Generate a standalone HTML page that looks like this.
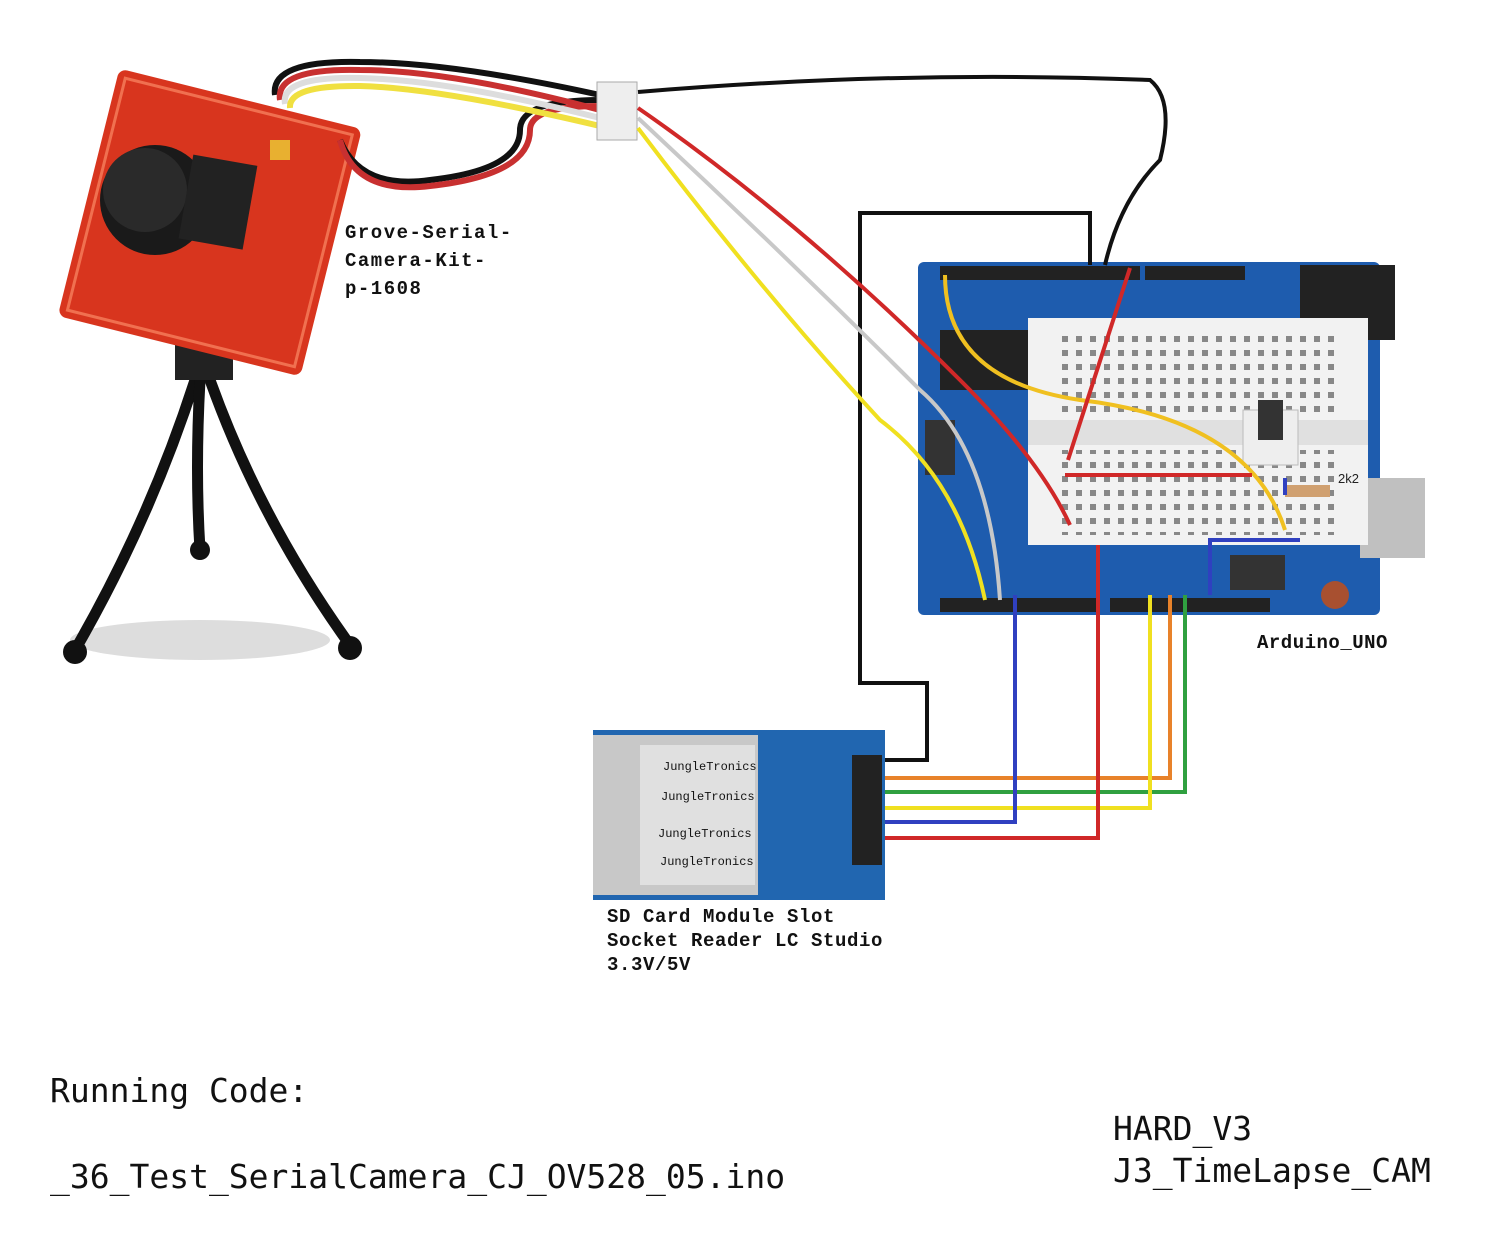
<!DOCTYPE html>
<html><head><meta charset="utf-8"><style>
body{margin:0;background:#fff;}
svg{display:block}
.m{font-family:"Liberation Mono",monospace;font-weight:bold;font-size:19px;fill:#111;letter-spacing:1.5px}
.s{font-family:"DejaVu Sans Mono","Liberation Mono",monospace;font-size:33px;fill:#111}
</style></head><body>
<svg width="1492" height="1256" viewBox="0 0 1492 1256" xmlns="http://www.w3.org/2000/svg">
<rect width="1492" height="1256" fill="#fff"/>
<!-- tripod -->
<ellipse cx="200" cy="640" rx="130" ry="20" fill="#ddd"/>
<g stroke="#111" stroke-width="11" fill="none" stroke-linecap="round">
<path d="M195 380 Q150 520 75 650"/>
<path d="M200 380 Q195 470 200 550"/>
<path d="M210 380 Q260 520 350 645"/>
</g>
<circle cx="75" cy="652" r="12" fill="#111"/><circle cx="350" cy="648" r="12" fill="#111"/><circle cx="200" cy="550" r="10" fill="#111"/>
<rect x="175" y="335" width="58" height="45" fill="#222"/>
<!-- camera pcb -->
<g transform="rotate(14 210 222)">
<rect x="85" y="95" width="250" height="255" rx="8" fill="#d8351e"/>
<rect x="93" y="103" width="234" height="239" fill="none" stroke="#f07050" stroke-width="3"/>
</g>
<circle cx="155" cy="200" r="55" fill="#1a1a1a"/>
<circle cx="145" cy="190" r="42" fill="#2a2a2a"/>
<rect x="185" y="160" width="65" height="85" fill="#222" transform="rotate(10 220 205)"/>
<rect x="270" y="140" width="20" height="20" fill="#e8b030"/>
<!-- camera cable -->
<g fill="none" stroke-width="6">
<path d="M340 140 Q360 190 430 180 Q520 170 520 130 Q520 100 600 100" stroke="#111"/>
<path d="M340 140 Q355 195 430 186 Q530 175 530 130 Q530 106 600 106" stroke="#c83030"/>
<path d="M275 95 Q270 60 360 62 Q450 62 600 95" stroke="#111"/>
<path d="M280 100 Q275 68 360 70 Q450 70 600 110" stroke="#c83030"/>
<path d="M285 104 Q280 76 360 78 Q450 80 600 118" stroke="#ddd"/>
<path d="M290 108 Q288 85 360 86 Q440 88 600 126" stroke="#f0e040"/>
</g>
<rect x="597" y="82" width="40" height="58" fill="#eee" stroke="#aaa"/>
<!-- arduino -->
<rect x="918" y="262" width="462" height="353" rx="6" fill="#1e5cae"/>
<rect x="940" y="266" width="200" height="14" fill="#222"/>
<rect x="1145" y="266" width="100" height="14" fill="#222"/>
<rect x="940" y="598" width="160" height="14" fill="#222"/>
<rect x="1110" y="598" width="160" height="14" fill="#222"/>
<rect x="940" y="330" width="90" height="60" fill="#222"/>
<rect x="925" y="420" width="30" height="55" fill="#333"/>
<rect x="1300" y="265" width="95" height="75" fill="#222"/>
<rect x="1360" y="478" width="65" height="80" fill="#c0c0c0"/>
<rect x="1230" y="555" width="55" height="35" fill="#333"/>
<circle cx="1335" cy="595" r="14" fill="#a85030"/>
<!-- breadboard -->
<rect x="1028" y="318" width="340" height="227" fill="#f2f2f2"/>
<rect x="1028" y="420" width="340" height="25" fill="#e0e0e0"/>
<pattern id="d" x="1062" y="336" width="14" height="14" patternUnits="userSpaceOnUse"><rect width="6" height="6" fill="#888"/></pattern>
<rect x="1062" y="336" width="280" height="80" fill="url(#d)"/>
<rect x="1062" y="450" width="280" height="85" fill="url(#d)"/>
<rect x="1243" y="410" width="55" height="55" fill="#eee" stroke="#bbb"/>
<rect x="1258" y="400" width="25" height="40" fill="#333"/>
<rect x="1285" y="485" width="45" height="12" fill="#d0a070"/>
<text x="1338" y="483" font-family="Liberation Sans" font-size="13" fill="#222">2k2</text>
<!-- wires -->
<g fill="none" stroke-width="4">
<path d="M638 92 Q900 70 1150 80 Q1175 100 1160 160 Q1120 200 1105 265" stroke="#111"/>
<path d="M1090 265 V213 H860 V683 H927 V760 H880" stroke="#111"/>
<path d="M638 108 Q800 220 960 380 Q1040 460 1070 525" stroke="#d02828"/>
<path d="M638 118 Q780 250 920 390 Q990 450 1000 600" stroke="#c8c8c8"/>
<path d="M638 128 Q760 290 880 420 Q960 480 985 600" stroke="#f0e020"/>
<path d="M945 275 Q945 380 1080 400 Q1250 420 1285 530" stroke="#f0c020"/>
<path d="M1130 268 L1068 460" stroke="#d02828"/>
<path d="M1065 475 H1252" stroke="#d02828"/>
<path d="M1285 478 V495 M1300 540 H1210 V595" stroke="#3040c0"/>
<path d="M880 778 H1170 V595" stroke="#e8822a"/>
<path d="M880 792 H1185 V595" stroke="#30a040"/>
<path d="M880 808 H1150 V595" stroke="#f0e020"/>
<path d="M880 822 H1015 V595" stroke="#3040c0"/>
<path d="M880 838 H1098 V545" stroke="#d02828"/>
</g>
<!-- SD module -->
<rect x="593" y="730" width="292" height="170" fill="#2166b0"/>
<rect x="593" y="735" width="165" height="160" fill="#c8c8c8"/>
<rect x="640" y="745" width="115" height="140" fill="#e0e0e0"/>
<rect x="852" y="755" width="30" height="110" fill="#222"/>
<g font-family="Liberation Mono" font-size="12" fill="#111">
<text x="663" y="770">JungleTronics</text><text x="661" y="800">JungleTronics</text>
<text x="658" y="837">JungleTronics</text><text x="660" y="865">JungleTronics</text></g>
<!-- labels -->
<text class="m" x="345" y="238">Grove-Serial-</text>
<text class="m" x="345" y="266">Camera-Kit-</text>
<text class="m" x="345" y="294">p-1608</text>
<text class="m" x="1257" y="648" font-size="17" style="letter-spacing:0.5px">Arduino_UNO</text>
<text class="m" x="607" y="922" font-size="17" style="letter-spacing:0.6px">SD Card Module Slot</text>
<text class="m" x="607" y="946" font-size="17" style="letter-spacing:0.6px">Socket Reader LC Studio</text>
<text class="m" x="607" y="970" font-size="17" style="letter-spacing:0.6px">3.3V/5V</text>
<text class="s" x="50" y="1102">Running Code:</text>
<text class="s" x="50" y="1188">_36_Test_SerialCamera_CJ_OV528_05.ino</text>
<text class="s" x="1113" y="1140">HARD_V3</text>
<text class="s" x="1113" y="1182">J3_TimeLapse_CAM</text>
</svg>
</body></html>
